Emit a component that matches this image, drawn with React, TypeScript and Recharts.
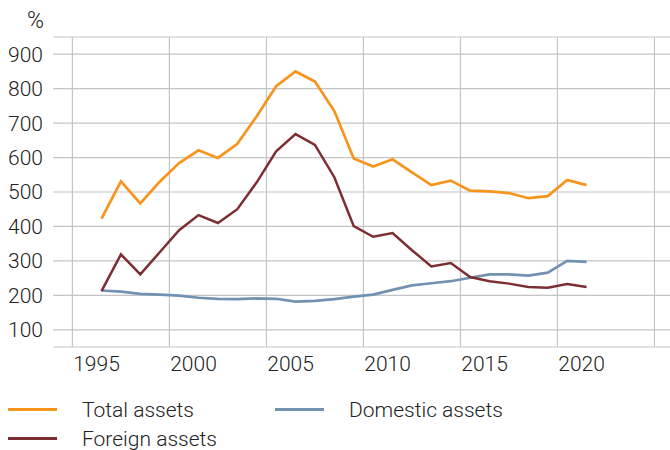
import { LineChart, Line, XAxis, YAxis, CartesianGrid } from "recharts";

const years = [
  1995, 1996, 1997, 1998, 1999, 2000, 2001, 2002, 2003, 2004, 2005, 2006, 2007,
  2008, 2009, 2010, 2011, 2012, 2013, 2014, 2015, 2016, 2017, 2018, 2019, 2020,
];

const totalAssets = [
  423, 531, 467, 530, 584, 621, 599, 640, 720, 807, 850, 821, 735,
  597, 574, 595, 557, 520, 533, 504, 502, 497, 482, 488, 535, 520,
];

const foreignAssets = [
  212, 319, 261, 325, 389, 433, 410, 450, 528, 618, 668, 637, 543,
  401, 370, 381, 331, 284, 294, 253, 241, 234, 224, 222, 233, 224,
];

const domesticAssets = [
  214, 211, 204, 202, 199, 193, 190, 189, 191, 190, 182, 184, 189,
  196, 202, 216, 229, 235, 241, 251, 261, 261, 257, 266, 300, 297,
];

const xTicks = [1995, 2000, 2005, 2010, 2015, 2020];
const yTicks = [100, 200, 300, 400, 500, 600, 700, 800, 900];
const xGridValues = [1993.5, 1998.5, 2003.5, 2008.5, 2013.5, 2018.5, 2023.5];

const series = [
  { key: "total", name: "Total assets", color: "#f7941d", width: 2.7 },
  { key: "domestic", name: "Domestic assets", color: "#7292b2", width: 2.7 },
  { key: "foreign", name: "Foreign assets", color: "#7d2e33", width: 2.5 },
];

const data = years.map((year, i) => ({
  year,
  total: totalAssets[i],
  foreign: foreignAssets[i],
  domestic: domesticAssets[i],
}));

const textColor = "#222";
const tickStyle = { fontSize: 21, fill: textColor, fontFamily: "Roboto", fontWeight: 300 };

const App = () => {
  return (
    <div style={{ position: "absolute", left: 0, top: 0, width: 670, height: 450, background: "#fff" }}>
      <div
        style={{
          position: "absolute",
          left: 0,
          top: 8,
          width: 44,
          textAlign: "right",
          fontFamily: "Roboto",
          fontWeight: 300,
          fontSize: 23,
          lineHeight: "26px",
          color: textColor,
        }}
      >
        %
      </div>
      <LineChart width={670} height={380} data={data} margin={{ top: 37, right: 0, left: 0, bottom: 0 }}>
        <CartesianGrid stroke="#c4c4c4" strokeWidth={1.2} verticalValues={xGridValues} />
        <XAxis
          dataKey="year"
          type="number"
          domain={[1992.5, 2024.3]}
          ticks={xTicks}
          height={33}
          axisLine={false}
          tickLine={false}
          tickSize={0}
          tickMargin={9}
          tick={{ ...tickStyle, dx: -5 }}
          allowDataOverflow
        />
        <YAxis
          type="number"
          domain={[50, 950]}
          ticks={yTicks}
          width={53}
          axisLine={false}
          tickLine={false}
          tickSize={0}
          tickMargin={10}
          tick={tickStyle}
          allowDataOverflow
        />
        {series.map((s) => (
          <Line
            key={s.key}
            dataKey={s.key}
            name={s.name}
            stroke={s.color}
            strokeWidth={s.width}
            dot={false}
            type="linear"
            isAnimationActive={false}
          />
        ))}
      </LineChart>
      <div
        style={{
          position: "absolute",
          left: 8,
          top: 395,
          display: "grid",
          gridTemplateColumns: "267px 300px",
          fontFamily: "Roboto",
          fontWeight: 300,
          fontSize: 21,
          color: textColor,
        }}
      >
        {series.map((s) => (
          <div key={s.key} style={{ display: "flex", alignItems: "center", height: 29 }}>
            <div style={{ width: 49, height: 3, background: s.color, marginRight: 25 }} />
            <span>{s.name}</span>
          </div>
        ))}
      </div>
    </div>
  );
};

export default App;
